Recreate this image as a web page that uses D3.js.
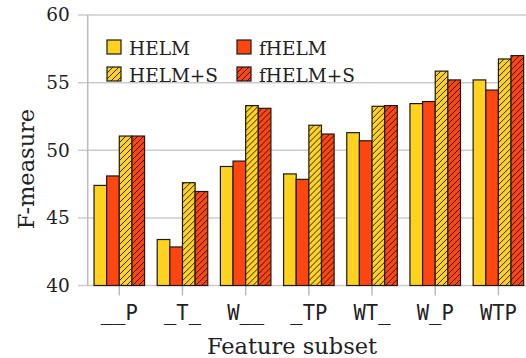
<!DOCTYPE html>
<html>
<head>
<meta charset="utf-8">
<script src="https://cdn.jsdelivr.net/npm/d3@7"></script>
<style>
  body { margin: 0; background: #fff; }
  svg text { font-family: "DejaVu Serif", serif; fill: #222; }
</style>
</head>
<body>
<svg id="chart" width="526" height="358"></svg>
<script>
var categories = ["__P", "_T_", "W__", "_TP", "WT_", "W_P", "WTP"];
var seriesNames = ["HELM", "fHELM", "HELM+S", "fHELM+S"];
var helm      = [47.4, 43.4, 48.8, 48.25, 51.3, 53.45, 55.2];
var fhelm     = [48.1, 42.85, 49.2, 47.85, 50.7, 53.6, 54.45];
var helmS     = [51.05, 47.6, 53.3, 51.85, 53.25, 55.85, 56.75];
var fhelmS    = [51.05, 46.95, 53.1, 51.2, 53.3, 55.2, 57.0];
var yTicks = [40, 45, 50, 55, 60];

var seriesValues = [helm, fhelm, helmS, fhelmS];
var colors = ["#ffd21f", "#ff4510", "#ffd21f", "#ff4510"];
var hatched = [false, false, true, true];

var svg = d3.select("#chart");
var plotL = 87.7, plotR = 530, plotT = 15, plotB = 285.5;

// hatch patterns
var defs = svg.append("defs");
[["hatchY", "#ffd21f"], ["hatchR", "#ff4510"]].forEach(function (p) {
  var pat = defs.append("pattern")
      .attr("id", p[0])
      .attr("patternUnits", "userSpaceOnUse")
      .attr("width", 6).attr("height", 6);
  pat.append("rect").attr("width", 6).attr("height", 6).attr("fill", p[1]);
  pat.append("path")
      .attr("d", "M-1,7 L7,-1 M-4,4 L4,-4 M2,10 L10,2")
      .attr("stroke", "#111").attr("stroke-width", 0.9);
});
function fillFor(i) {
  if (!hatched[i]) return colors[i];
  return i === 2 ? "url(#hatchY)" : "url(#hatchR)";
}

var x = d3.scaleBand().domain(categories).range([plotL, plotR])
    .paddingInner(0.2).paddingOuter(0.1);
var xs = d3.scaleBand().domain(d3.range(4)).range([0, x.bandwidth()]);
var y = d3.scaleLinear().domain([40, 60]).range([plotB, plotT]);

// grid
svg.append("g").selectAll("line").data(yTicks).enter().append("line")
    .attr("x1", 78).attr("x2", 526)
    .attr("y1", function (d) { return y(d); })
    .attr("y2", function (d) { return y(d); })
    .attr("stroke", "#cccccc").attr("stroke-width", 1.5);

svg.append("line")
    .attr("x1", plotL).attr("x2", plotL)
    .attr("y1", plotT).attr("y2", plotB)
    .attr("stroke", "#bbbbbb").attr("stroke-width", 1.5);

// x axis ticks
var xAxis = svg.append("g").attr("transform", "translate(0," + plotB + ")")
    .call(d3.axisBottom(x).tickSize(10).tickPadding(10));
xAxis.select(".domain").remove();
xAxis.selectAll(".tick line").attr("stroke", "#bbbbbb").attr("stroke-width", 1.5);
xAxis.selectAll("text")
    .style("font-family", "'DejaVu Sans Mono', monospace")
    .style("font-size", "20.5px").attr("fill", "#222");

// y axis labels
var yAxis = svg.append("g").attr("transform", "translate(" + plotL + ",0)")
    .call(d3.axisLeft(y).tickValues(yTicks).tickSize(0).tickPadding(18));
yAxis.select(".domain").remove();
yAxis.selectAll("text").style("font-size", "18.5px").attr("fill", "#222");

// bars
var groups = svg.append("g").selectAll("g").data(categories).enter().append("g")
    .attr("transform", function (d) { return "translate(" + x(d) + ",0)"; });
groups.selectAll("rect")
    .data(function (d, ci) {
      return seriesValues.map(function (vals, si) { return { s: si, v: vals[ci] }; });
    })
    .enter().append("rect")
    .attr("x", function (d) { return xs(d.s); })
    .attr("width", xs.bandwidth())
    .attr("y", function (d) { return y(d.v); })
    .attr("height", function (d) { return plotB - y(d.v); })
    .attr("fill", function (d) { return fillFor(d.s); })
    .attr("stroke", "#1a1a1a").attr("stroke-width", 1.2);

// legend
var legendPos = [[107, 40], [237, 40], [107, 67], [237, 67]];
var legend = svg.append("g").selectAll("g").data(seriesNames).enter().append("g")
    .attr("transform", function (d, i) { return "translate(" + legendPos[i][0] + "," + legendPos[i][1] + ")"; });
legend.append("rect")
    .attr("width", 14).attr("height", 14)
    .attr("fill", function (d, i) { return fillFor(i); })
    .attr("stroke", "#1a1a1a").attr("stroke-width", 1.2);
legend.append("text")
    .attr("x", 22).attr("y", 14.5)
    .style("font-size", "18.5px")
    .text(function (d) { return d; });

// axis titles
svg.append("text")
    .attr("x", 292).attr("y", 353.5)
    .attr("text-anchor", "middle")
    .style("font-size", "22.5px")
    .text("Feature subset");
svg.append("text")
    .attr("transform", "translate(34,169) rotate(-90)")
    .attr("text-anchor", "middle")
    .style("font-size", "22.5px")
    .text("F-measure");
</script>
</body>
</html>
